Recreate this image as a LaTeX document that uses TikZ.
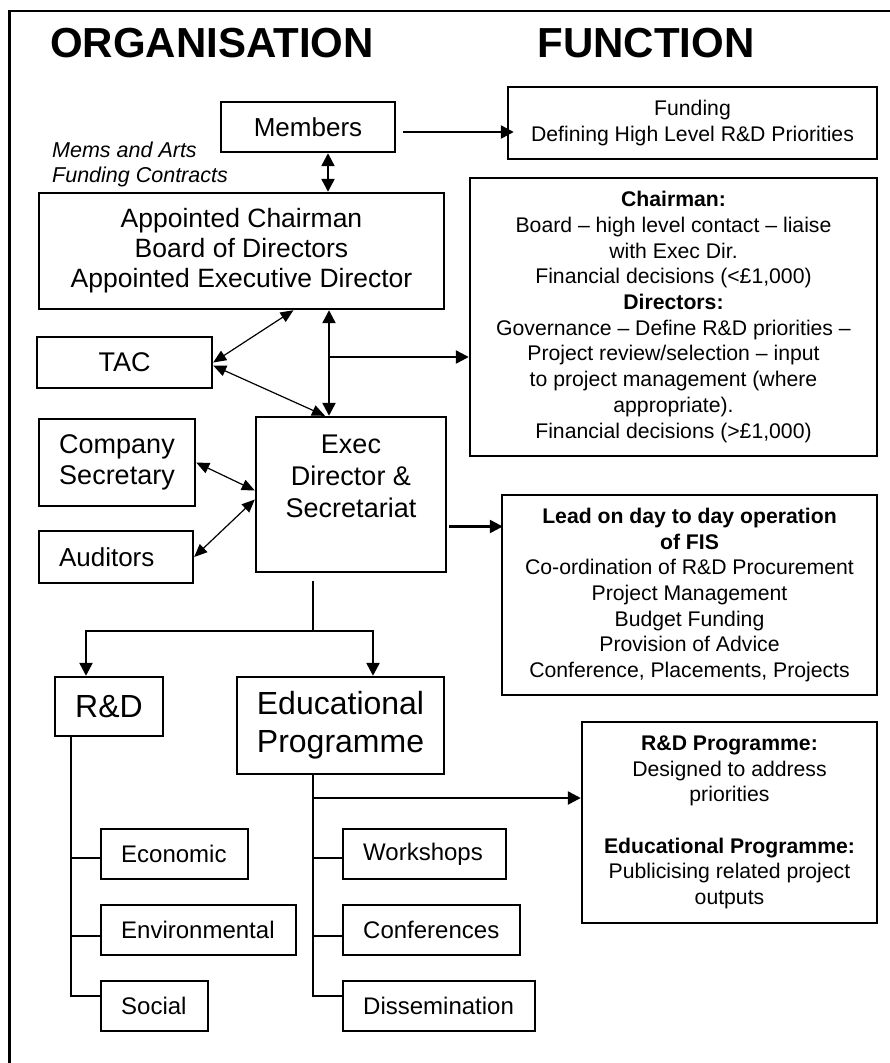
\documentclass[tikz,border=0pt]{standalone}
\usepackage{fontspec}
\setmainfont{Liberation Sans}
\usetikzlibrary{arrows.meta}

\begin{document}
\begin{tikzpicture}[x=1pt, y=-1pt,
  box/.style={draw, line width=2.4pt, align=center, inner sep=0pt},
  leaf/.style={box, anchor=north west, align=left, inner xsep=20pt,
    minimum height=50pt, font=\fontsize{24}{28}\selectfont},
  fnbox/.style={box, font=\fontsize{21.2}{25.67}\selectfont},
  head/.style={font=\bfseries\fontsize{42}{48}\selectfont},
  link/.style={line width=2.4pt, -{Triangle[length=13pt,width=13pt]}},
  dlink/.style={line width=2.4pt,
    {Triangle[length=13pt,width=13pt]}-{Triangle[length=13pt,width=13pt]}},
  tlink/.style={line width=1.2pt,
    {Triangle[length=13pt,width=11pt]}-{Triangle[length=13pt,width=11pt]}},
  trunk/.style={line width=2.4pt}]

  \useasboundingbox (0,0) rectangle (890,1063);
  \draw[trunk] (9.5,1063) |- (890,11);

  % headings
  \node[head] (org) at (212,43) {ORGANISATION};
  \node[head] (fun) at (646,43) {FUNCTION};

  % organisation side
  \node[box, minimum width=174pt, minimum height=50pt,
    font=\fontsize{26}{30}\selectfont] (mem) at (308,127) {Members};
  \node[anchor=west, align=left, inner sep=0pt,
    font=\itshape\fontsize{21.5}{25}\selectfont] (memlbl) at (52,164.5)
    {Mems and Arts\\Funding Contracts};
  \node[box, minimum width=405pt, minimum height=116pt,
    font=\fontsize{26.5}{30}\selectfont] (board) at (241.5,251)
    {Appointed Chairman\\Board of Directors\\Appointed Executive Director};
  \node[box, minimum width=175pt, minimum height=51pt,
    font=\fontsize{27}{32}\selectfont] (tac) at (124.5,362.5) {TAC};
  \node[box, minimum width=156pt, minimum height=87pt,
    font=\fontsize{27}{31}\selectfont] (cosec) at (117,462.5) {Company\\Secretary};
  \node[box, align=left, inner xsep=20pt, text width=114pt, minimum height=52pt,
    font=\fontsize{26}{30}\selectfont] (aud) at (116,557) {Auditors};
  \node[box, font=\fontsize{27}{32}\selectfont] (exec) at (351,494.5)
    {\parbox[c][155pt][t]{190pt}{\centering\vspace*{17.5pt}Exec\\Director \&\\Secretariat}};

  \node[box, minimum width=108pt, minimum height=59pt,
    font=\fontsize{32}{38}\selectfont] (rd) at (109,706.5) {R\&D};
  \node[box, minimum width=207pt, minimum height=97pt,
    font=\fontsize{32}{38}\selectfont] (edu) at (340.5,725.5) {Educational\\Programme};

  \node[leaf, text width=107pt] (eco) at (100,828) {Economic};
  \node[leaf, text width=155pt] (env) at (100,904) {Environmental};
  \node[leaf, text width=67pt] (soc) at (100,980) {Social};
  \node[leaf, text width=123pt] (work) at (342,828) {Workshops};
  \node[leaf, text width=137pt] (conf) at (342,904) {Conferences};
  \node[leaf, text width=152pt] (diss) at (342,980) {Dissemination};

  % function side
  \node[fnbox, minimum width=369pt, minimum height=72pt] (fund) at (692.5,123)
    {Funding\\Defining High Level R\&D Priorities};
  \node[fnbox, minimum width=407pt, minimum height=278pt] (chfn) at (673.5,317)
    {\textbf{Chairman:}\\Board -- high level contact -- liaise\\with Exec Dir.\\
     Financial decisions (<£1,000)\\\textbf{Directors:}\\
     Governance -- Define R\&D priorities --\\Project review/selection -- input\\
     to project management (where\\appropriate).\\Financial decisions (>£1,000)};
  \node[fnbox, minimum width=375pt, minimum height=200pt] (lead) at (689.5,595)
    {\textbf{Lead on day to day operation}\\\textbf{of FIS}\\
     Co-ordination of R\&D Procurement\\Project Management\\Budget Funding\\
     Provision of Advice\\Conference, Placements, Projects};
  \node[fnbox, minimum width=295pt, minimum height=201pt] (rdp) at (729.5,822.5)
    {\textbf{R\&D Programme:}\\Designed to address\\priorities\\[25.67pt]
     \textbf{Educational Programme:}\\Publicising related project\\outputs};

  % connectors
  \draw[link] ([shift={(7,5)}]mem.east) -- ([shift={(7,5)}]mem.east -| fund.west);
  \draw[dlink] ([xshift=20pt]mem.south) -- ([xshift=20pt]mem.south |- board.north);
  \draw[dlink] ([xshift=-22pt]exec.north) -- ([xshift=-22pt]exec.north |- board.south);
  \coordinate (tap) at (329,357);
  \draw[link] (tap) -- (tap -| chfn.west);
  \draw[tlink] (tac.east) -- ([xshift=52pt]board.south);
  \draw[tlink] ([shift={(0,3)}]tac.east) -- ([xshift=-26pt]exec.north);
  \draw[tlink] (cosec.east) -- ([shift={(0,-4)}]exec.west);
  \draw[tlink] (aud.east) -- ([shift={(0,5)}]exec.west);
  \draw[link] ([shift={(2,32)}]exec.east) -- ([shift={(2,32)}]exec.east -| lead.west);

  \coordinate (fork) at (313,631);
  \draw[trunk] ([shift={(-38,8)}]exec.south) -- (fork);
  \draw[link] (fork) -| ([xshift=-23pt]rd.north);
  \draw[link] (fork) -| ([xshift=32.5pt]edu.north);

  \draw[trunk] ([xshift=-38pt]rd.south) |- ([shift={(0,4)}]eco.west);
  \draw[trunk] ([xshift=-38pt]rd.south) |- ([shift={(0,6)}]env.west);
  \draw[trunk] ([xshift=-38pt]rd.south) |- ([shift={(0,-10)}]soc.west);
  \draw[trunk] ([xshift=-27.5pt]edu.south) |- ([shift={(0,4)}]work.west);
  \draw[trunk] ([xshift=-27.5pt]edu.south) |- ([shift={(0,6)}]conf.west);
  \draw[trunk] ([xshift=-27.5pt]edu.south) |- ([shift={(0,-10)}]diss.west);
  \coordinate (edtap) at (313,798);
  \draw[link] (edtap) -- (edtap -| rdp.west);
\end{tikzpicture}
\end{document}
